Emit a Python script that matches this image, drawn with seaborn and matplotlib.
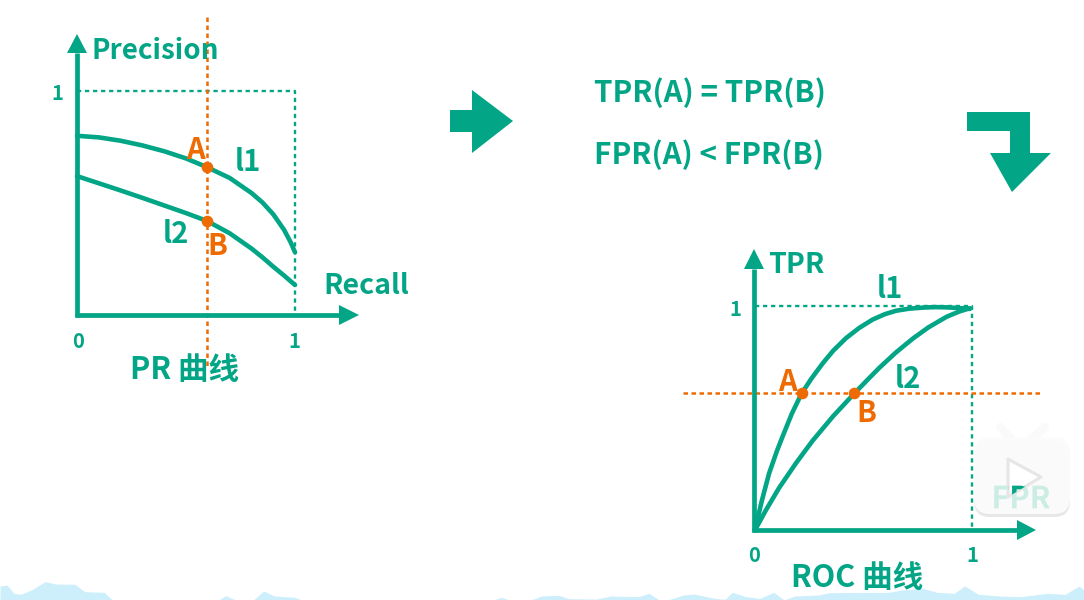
import matplotlib
matplotlib.use("Agg")
import matplotlib.pyplot as plt
import seaborn as sns
from matplotlib.patches import Polygon, FancyBboxPatch, PathPatch
from matplotlib.textpath import TextPath
from matplotlib.font_manager import FontProperties
from matplotlib.transforms import Affine2D

sns.set_theme(style="white")
plt.rcParams['font.family'] = ['Noto Sans CJK SC', 'DejaVu Sans']

GREEN = "#02A585"
ORANGE = "#EE6A02"
W, H = 1084, 600

# Series
pr_x = [0, .1, .2, .3, .4, .5, .596, .7, .8, .85, .9, .95, .98, 1.0]
pr_l1 = [.80, .793, .778, .757, .731, .699, .66, .612, .545, .503, .45, .38, .325, .28]
pr_x2 = [0, .1, .2, .3, .4, .5, .596, .7, .8, .85, .9, .95, 1.0]
pr_l2 = [.62, .588, .556, .523, .489, .455, .42, .365, .297, .258, .216, .176, .134]
roc1_x = [0, .03, .065, .1, .127, .17, .215, .26, .312, .36, .42, .48, .543, .6, .651, .71, .775, .83, .88, .94, .99]
roc1_y = [0, .125, .253, .35, .417, .52, .61, .676, .744, .80, .857, .902, .94, .964, .979, .988, .993, .995, .994, .991, .987]
roc2_x = [0, .05, .111, .19, .265, .36, .458, .52, .574, .65, .728, .80, .883, .94, .99]
roc2_y = [0, .088, .188, .30, .398, .508, .61, .672, .725, .793, .855, .905, .952, .975, .99]
pr_points_x = [.596, .596]
pr_points_y = [.66, .42]
roc_points_x = [.215, .458]
roc_points_y = [.61, .61]
cloud_x = [0, 10, 20, 30, 45, 65, 80, 108, 122, 150, 162, 315, 325, 340, 365, 380, 395, 425, 435, 460, 470,
           712, 722, 735, 768, 780, 805, 820, 860, 880, 920, 935, 950, 965, 985, 1000, 1030, 1045, 1055, 1075,
           1095, 1115, 1130, 1145, 1180, 1195, 1280, 1300, 1330, 1350, 1375, 1390, 1410, 1440, 1470, 1510,
           1535, 1555, 1562]
cloud_h = [78, 75, 100, 103, 90, 65, 72, 73, 95, 97, 120, 120, 107, 120, 120, 93, 108, 112, 120, 118, 120,
           120, 112, 120, 118, 108, 106, 116, 117, 108, 110, 100, 120, 118, 105, 102, 115, 118, 97, 110,
           115, 97, 120, 108, 105, 98, 97, 90, 85, 97, 100, 78, 103, 108, 110, 100,
           103, 78, 90]

fig = plt.figure(figsize=(W / 100, H / 100), dpi=100, facecolor="white")


def make_axes(x0, x1, y0, y1):
    a = fig.add_axes([x0 / W, 1 - y0 / H, (x1 - x0) / W, (y0 - y1) / H])
    a.set_xlim(0, 1)
    a.set_ylim(0, 1)
    a.axis("off")
    a.patch.set_alpha(0)
    return a


pr = make_axes(77, 295, 315, 91)
roc = make_axes(755, 972, 530, 306)

for a in (pr, roc):
    a.plot([0, 1, 1], [1, 1, 0], color=GREEN, lw=1.7, ls=(0, (1.8, 1.6)), clip_on=False)

pr.plot([.596, .596], [1.33, -.24], color=ORANGE, lw=1.8, ls=(0, (1.8, 1.4)), clip_on=False)
roc.plot([-.33, 1.32], [.61, .61], color=ORANGE, lw=1.8, ls=(0, (1.8, 1.4)), clip_on=False)

for xs, ys, a in ((pr_x, pr_l1, pr), (pr_x2, pr_l2, pr), (roc1_x, roc1_y, roc), (roc2_x, roc2_y, roc)):
    sns.lineplot(x=xs, y=ys, ax=a, color=GREEN, lw=3.3, sort=False, estimator=None, clip_on=False)
for xs, ys, a in ((pr_points_x, pr_points_y, pr), (roc_points_x, roc_points_y, roc)):
    sns.scatterplot(x=xs, y=ys, ax=a, color=ORANGE, s=70, linewidth=0, clip_on=False, zorder=5)

# Overlay in pixel units for the hand-drawn decorations and labels
ov = fig.add_axes([0, 0, 1, 1])
ov.set_xlim(0, W)
ov.set_ylim(H, 0)
ov.axis("off")
ov.patch.set_alpha(0)

ov.fill_between([x / 1.441 for x in cloud_x], [560 + h / 3 for h in cloud_h], 600,
                color="#CDEEFB", lw=0, zorder=1)


def poly(pts, **kw):
    ov.add_patch(Polygon(pts, closed=True, facecolor=kw.pop("color", GREEN), edgecolor="none", **kw))


def axis_pair(ox, oy, ytip, ybase, xtip, xbase):
    ov.plot([ox, ox], [oy + 2, ybase], color=GREEN, lw=3.4, solid_capstyle="butt", zorder=3)
    ov.plot([ox - 2, xbase], [oy, oy], color=GREEN, lw=3.4, solid_capstyle="butt", zorder=3)
    poly([(ox - 10, ybase), (ox + 10, ybase), (ox, ytip)], zorder=3)
    poly([(xbase, oy - 10), (xbase, oy + 10), (xtip, oy)], zorder=3)


axis_pair(77, 315, 34, 53, 359, 339)
axis_pair(754, 530, 249, 269, 1036, 1017)

poly([(450, 110), (472, 110), (472, 90), (513, 121), (472, 153), (472, 132), (450, 132)], zorder=3)
poly([(967, 112), (1030, 112), (1030, 153), (1051, 153), (1012, 192), (990, 153), (1010, 153), (1010, 131), (967, 131)],
     zorder=3)


def label(x, y, s, size=15, color=GREEN, ha="center", **kw):
    return ov.text(x, y + 2, s, color=color, fontsize=size, fontweight="bold", ha=ha, va="center", zorder=6, **kw)


label(91, 49, "Precision", 20, ha="left")
label(323, 284, "Recall", 20.5, ha="left")
label(57, 92, "1", 14.5)
label(78, 339, "0", 14.5)
label(294, 339, "1", 14.5)
label(185, 368, "PR 曲线", 22)
label(195, 148, "A", 21, ORANGE)
label(217, 244, "B", 21, ORANGE)
label(248, 160, "l1", 21)
label(176, 232, "l2", 21)
label(594, 91, "TPR(A) = TPR(B)", 21.4, ha="left")
label(594, 153, "FPR(A) < FPR(B)", 21.4, ha="left")
label(768, 263, "TPR", 20.5, ha="left")
label(890, 287, "l1", 21)
label(908, 377, "l2", 21)
label(735, 308, "1", 14.5)
label(787, 380, "A", 21, ORANGE)
label(866, 411, "B", 21, ORANGE)
label(754, 554, "0", 14.5)
label(972, 554, "1", 14.5)
label(857, 576, "ROC 曲线", 22)

# Player watermark
for pts in ([(1000, 427), (1013, 440)], [(1045, 427), (1030, 440)]):
    ov.plot(*zip(*pts), color="#FAFAFA", lw=6, solid_capstyle="round", zorder=7)
shadow = FancyBboxPatch((974, 440), 96, 77, boxstyle="round,pad=0,rounding_size=16",
                        facecolor="#DDDDDD", edgecolor="none", alpha=.7, zorder=7)
ov.add_patch(shadow)
box = FancyBboxPatch((974, 437), 96, 77, boxstyle="round,pad=0,rounding_size=16",
                     facecolor="#FCFCFC", edgecolor="none", alpha=.94, zorder=7)
ov.add_patch(box)
tri = Polygon([(1008, 459), (1041, 477), (1008, 497)], closed=True, joinstyle="round",
              facecolor="#FFFFFF", edgecolor="#E6E6E6", lw=2.2, zorder=8)
ov.add_patch(tri)
fp = FontProperties(family="Noto Sans CJK SC", weight="bold", size=22)
tp = TextPath((0, 0), "FPR", prop=fp, size=22 * 100 / 72)
bb = tp.get_extents()
place = Affine2D().translate(-bb.x0 - bb.width / 2, -bb.y0 - bb.height / 2).scale(1, -1).translate(1022, 497)
pale = PathPatch(tp, facecolor="#CBEDE3", edgecolor="none", transform=place + ov.transData, zorder=9)
ov.add_patch(pale)
dark = PathPatch(tp, facecolor=GREEN, edgecolor="none", transform=place + ov.transData, zorder=10)
ov.add_patch(dark)
dark.set_clip_path(tri)

fig.savefig("out.png", dpi=100, facecolor="white")
